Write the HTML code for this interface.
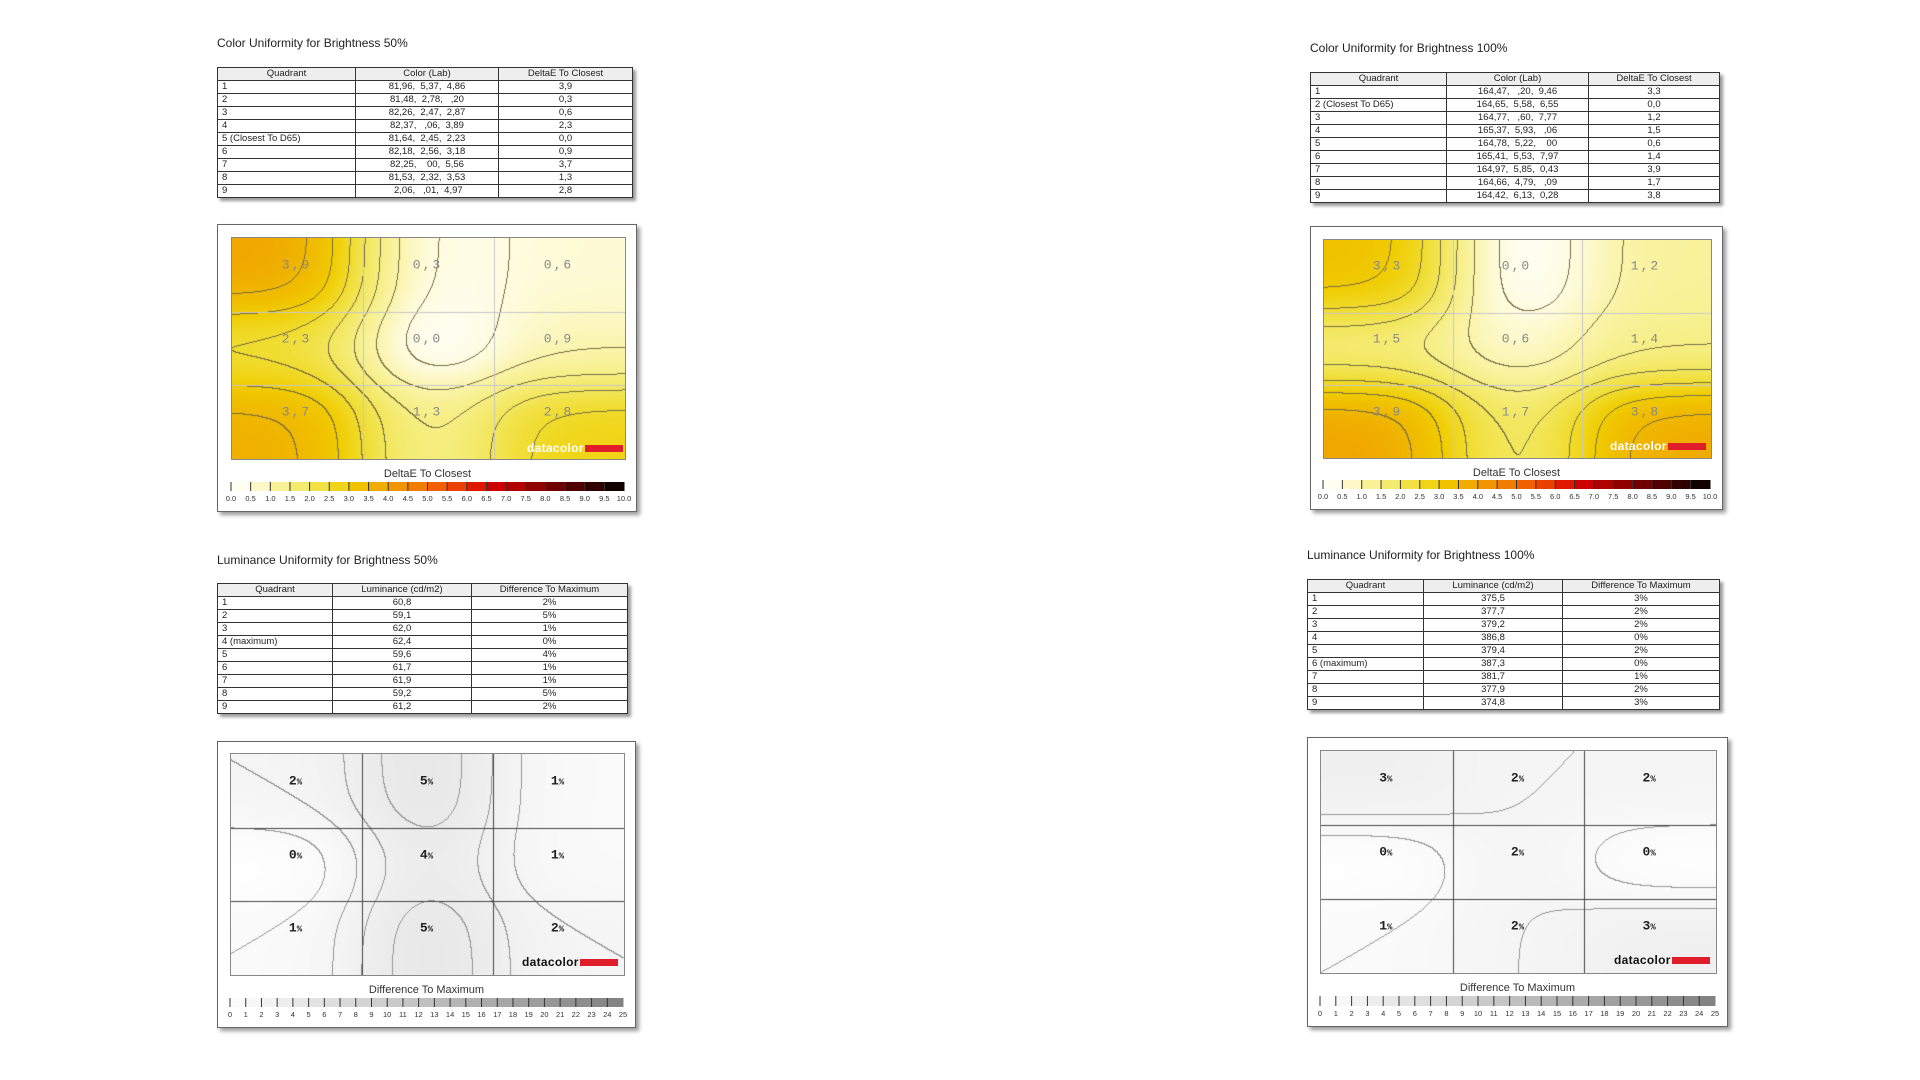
<!DOCTYPE html>
<html><head><meta charset="utf-8">
<style>
body{margin:0;width:1920px;height:1080px;background:#fff;position:relative;overflow:hidden;font-family:"Liberation Sans",Arial,sans-serif;color:#222}
.t{position:absolute;font-size:12px;white-space:nowrap}
table{position:absolute;border-collapse:collapse;font-size:9.5px;box-shadow:3px 3px 3px #999;background:#fff}
td,th{border:1px solid #333;padding:0 3px;height:12px;line-height:12px;font-weight:normal;text-align:center}
th{background:#eee}
td.l{text-align:left;padding-left:4px}
.box{position:absolute;border:1px solid #666;background:#fff;box-shadow:3px 3px 4px #999}
canvas{position:absolute;border:1px solid #888;box-sizing:border-box}
.lab{position:absolute;font-family:"Liberation Mono",monospace;font-size:13px;transform:translate(-50%,-50%);white-space:nowrap}
.dl{color:#888;letter-spacing:2px}
.ll{color:#222;font-weight:bold}
.logo{position:absolute;font-weight:bold;font-size:12px;letter-spacing:0.3px}
.logo span{display:inline-block;width:38px;height:7px;background:#e21d2b;vertical-align:middle;margin-left:1px}
svg{position:absolute;left:0;top:0}
</style></head><body>

<div class="t" style="left:217px;top:36px">Color Uniformity for Brightness 50%</div>
<table style="left:217px;top:67px;width:416px">
<tr><th style="width:131px">Quadrant</th><th style="width:136px">Color (Lab)</th><th>DeltaE To Closest</th></tr>
<tr><td class="l">1</td><td>81,96,&nbsp; 5,37,&nbsp; 4,86</td><td>3,9</td></tr>
<tr><td class="l">2</td><td>81,48,&nbsp; 2,78,&nbsp; &nbsp;,20</td><td>0,3</td></tr>
<tr><td class="l">3</td><td>82,26,&nbsp; 2,47,&nbsp; 2,87</td><td>0,6</td></tr>
<tr><td class="l">4</td><td>82,37,&nbsp; &nbsp;,06,&nbsp; 3,89</td><td>2,3</td></tr>
<tr><td class="l">5 (Closest To D65)</td><td>81,64,&nbsp; 2,45,&nbsp; 2,23</td><td>0,0</td></tr>
<tr><td class="l">6</td><td>82,18,&nbsp; 2,56,&nbsp; 3,18</td><td>0,9</td></tr>
<tr><td class="l">7</td><td>82,25,&nbsp; &nbsp; 00,&nbsp; 5,56</td><td>3,7</td></tr>
<tr><td class="l">8</td><td>81,53,&nbsp; 2,32,&nbsp; 3,53</td><td>1,3</td></tr>
<tr><td class="l">9</td><td>&nbsp;2,06,&nbsp; &nbsp;,01,&nbsp; 4,97</td><td>2,8</td></tr>
</table>

<div class="t" style="left:1310px;top:41px">Color Uniformity for Brightness 100%</div>
<table style="left:1310px;top:72px;width:410px">
<tr><th style="width:129px">Quadrant</th><th style="width:135px">Color (Lab)</th><th>DeltaE To Closest</th></tr>
<tr><td class="l">1</td><td>164,47,&nbsp; &nbsp;,20,&nbsp; 9,46</td><td>3,3</td></tr>
<tr><td class="l">2 (Closest To D65)</td><td>164,65,&nbsp; 5,58,&nbsp; 6,55</td><td>0,0</td></tr>
<tr><td class="l">3</td><td>164,77,&nbsp; &nbsp;,60,&nbsp; 7,77</td><td>1,2</td></tr>
<tr><td class="l">4</td><td>165,37,&nbsp; 5,93,&nbsp; &nbsp;,06</td><td>1,5</td></tr>
<tr><td class="l">5</td><td>164,78,&nbsp; 5,22,&nbsp; &nbsp; 00</td><td>0,6</td></tr>
<tr><td class="l">6</td><td>165,41,&nbsp; 5,53,&nbsp; 7,97</td><td>1,4</td></tr>
<tr><td class="l">7</td><td>164,97,&nbsp; 5,85,&nbsp; 0,43</td><td>3,9</td></tr>
<tr><td class="l">8</td><td>164,66,&nbsp; 4,79,&nbsp; &nbsp;,09</td><td>1,7</td></tr>
<tr><td class="l">9</td><td>164,42,&nbsp; 6,13,&nbsp; 0,28</td><td>3,8</td></tr>
</table>

<div class="t" style="left:217px;top:553px">Luminance Uniformity for Brightness 50%</div>
<table style="left:217px;top:583px;width:411px">
<tr><th style="width:108px">Quadrant</th><th style="width:132px">Luminance (cd/m2)</th><th>Difference To Maximum</th></tr>
<tr><td class="l">1</td><td>60,8</td><td>2%</td></tr>
<tr><td class="l">2</td><td>59,1</td><td>5%</td></tr>
<tr><td class="l">3</td><td>62,0</td><td>1%</td></tr>
<tr><td class="l">4 (maximum)</td><td>62,4</td><td>0%</td></tr>
<tr><td class="l">5</td><td>59,6</td><td>4%</td></tr>
<tr><td class="l">6</td><td>61,7</td><td>1%</td></tr>
<tr><td class="l">7</td><td>61,9</td><td>1%</td></tr>
<tr><td class="l">8</td><td>59,2</td><td>5%</td></tr>
<tr><td class="l">9</td><td>61,2</td><td>2%</td></tr>
</table>

<div class="t" style="left:1307px;top:548px">Luminance Uniformity for Brightness 100%</div>
<table style="left:1307px;top:579px;width:413px">
<tr><th style="width:109px">Quadrant</th><th style="width:132px">Luminance (cd/m2)</th><th>Difference To Maximum</th></tr>
<tr><td class="l">1</td><td>375,5</td><td>3%</td></tr>
<tr><td class="l">2</td><td>377,7</td><td>2%</td></tr>
<tr><td class="l">3</td><td>379,2</td><td>2%</td></tr>
<tr><td class="l">4</td><td>386,8</td><td>0%</td></tr>
<tr><td class="l">5</td><td>379,4</td><td>2%</td></tr>
<tr><td class="l">6 (maximum)</td><td>387,3</td><td>0%</td></tr>
<tr><td class="l">7</td><td>381,7</td><td>1%</td></tr>
<tr><td class="l">8</td><td>377,9</td><td>2%</td></tr>
<tr><td class="l">9</td><td>374,8</td><td>3%</td></tr>
</table>

<div class="box" style="left:217px;top:224px;width:418px;height:286px"></div>
<div class="box" style="left:1310px;top:226px;width:411px;height:282px"></div>
<div class="box" style="left:217px;top:741px;width:417px;height:285px"></div>
<div class="box" style="left:1307px;top:737px;width:419px;height:288px"></div>

<canvas id="c1" width="393" height="221" style="left:231px;top:237px"></canvas>
<canvas id="c2" width="387" height="218" style="left:1323px;top:239px"></canvas>
<canvas id="c3" width="393" height="221" style="left:230px;top:753px"></canvas>
<canvas id="c4" width="395" height="222" style="left:1320px;top:750px"></canvas>

<div id="labels"></div>
<svg id="bars" width="1920" height="1080"></svg>

<script>
function lerpStops(stops,v){
  if(v<=stops[0][0])return stops[0][1];
  for(var i=1;i<stops.length;i++){if(v<=stops[i][0]){var a=stops[i-1],b=stops[i],t=(v-a[0])/(b[0]-a[0]);
    return [0,1,2].map(function(k){return a[1][k]+(b[1][k]-a[1][k])*t;});}}
  return stops[stops.length-1][1];
}
var deStops=[[0,[255,255,255]],[0.5,[255,252,225]],[1,[250,244,170]],[1.5,[246,238,130]],[2,[242,230,90]],[2.5,[240,220,45]],[3,[240,204,0]],[3.5,[240,184,0]],[4,[240,160,0]],[4.5,[240,136,0]],[5,[240,112,0]],[5.5,[240,80,0]],[6,[232,48,0]],[6.5,[216,0,0]],[7,[192,0,0]],[7.5,[160,0,0]],[8,[128,0,0]],[8.5,[96,0,0]],[9,[64,0,0]],[9.5,[32,0,0]],[10,[0,0,0]]];
var lumStops=[[0,[255,255,255]],[25,[128,128,128]]];
function draw(id,vals,stops,step,gridC,lineC){
  var c=document.getElementById(id),ctx=c.getContext('2d'),w=c.width,h=c.height;
  var img=ctx.createImageData(w,h),d=img.data,K=new Array(w*h),V=new Array(w*h);
  var sg=0.45,s2=2*sg*sg;
  for(var y=0;y<h;y++){var ty=(y+0.5)/h*3-0.5;
    for(var x=0;x<w;x++){var tx=(x+0.5)/w*3-0.5,sw=0,sv=0;
      for(var j=0;j<3;j++)for(var i=0;i<3;i++){var dx=tx-i,dy=ty-j,wt=Math.exp(-(dx*dx+dy*dy)/s2);sw+=wt;sv+=wt*vals[j][i];}
      var v=sv/sw;
      V[y*w+x]=v;K[y*w+x]=Math.floor(v/step);}}
  for(var y=0;y<h;y++)for(var x=0;x<w;x++){var p=y*w+x,col=lerpStops(stops,V[p]);
    var k=K[p],ct=(x<w-1&&K[p+1]!=k)||(y<h-1&&K[p+w]!=k);
    if(ct)col=lineC;
    d[p*4]=col[0];d[p*4+1]=col[1];d[p*4+2]=col[2];d[p*4+3]=255;}
  ctx.putImageData(img,0,0);
  ctx.strokeStyle=gridC;ctx.lineWidth=1;ctx.beginPath();
  for(var i=1;i<3;i++){var gx=Math.round(w*i/3)+0.5,gy=Math.round(h*i/3)+0.5;ctx.moveTo(gx,0);ctx.lineTo(gx,h);ctx.moveTo(0,gy);ctx.lineTo(w,gy);}
  ctx.stroke();
}
draw('c1',[[3.9,0.3,0.6],[2.3,0.0,0.9],[3.7,1.3,2.8]],deStops,0.5,'#c8c8c8',[120,110,70]);
draw('c2',[[3.3,0.0,1.2],[1.5,0.6,1.4],[3.9,1.7,3.8]],deStops,0.5,'#c8c8c8',[120,110,70]);
draw('c3',[[2,5,1],[0,4,1],[1,5,2]],lumStops,1,'#444',[150,150,150]);
draw('c4',[[3,2,2],[0,2,0],[1,2,3]],lumStops,1,'#444',[150,150,150]);

var labs=document.getElementById('labels'),html='';
function addLabels(x0,y0,w,h,arr,cls,pct){
  for(var j=0;j<3;j++)for(var i=0;i<3;i++){
    var cx=x0+w*(i+0.5)/3,cy=y0+h*(j+0.5)/3-9;
    var t=pct?(arr[j][i]+'<span style="font-size:9px">%</span>'):arr[j][i];
    html+='<div class="lab '+cls+'" style="left:'+cx+'px;top:'+cy+'px">'+t+'</div>';}
}
addLabels(231,237,393,221,[['3,9','0,3','0,6'],['2,3','0,0','0,9'],['3,7','1,3','2,8']],'dl',false);
addLabels(1323,239,387,218,[['3,3','0,0','1,2'],['1,5','0,6','1,4'],['3,9','1,7','3,8']],'dl',false);
addLabels(230,753,393,221,[[2,5,1],[0,4,1],[1,5,2]],'ll',true);
addLabels(1320,750,395,222,[[3,2,2],[0,2,0],[1,2,3]],'ll',true);
html+='<div class="logo" style="left:527px;top:441px;color:#fff">datacolor<span></span></div>';
html+='<div class="logo" style="left:1610px;top:439px;color:#fff">datacolor<span></span></div>';
html+='<div class="logo" style="left:522px;top:955px;color:#111">datacolor<span></span></div>';
html+='<div class="logo" style="left:1614px;top:953px;color:#111">datacolor<span></span></div>';
labs.innerHTML=html;

var s='';
function bar(x0,x1,y0,y1,ly,ty,title,n,stops,maxv,fmt){
  var w=(x1-x0)/n;
  s+='<text x="'+((x0+x1)/2)+'" y="'+ty+'" font-size="11" text-anchor="middle" fill="#333" font-family="Liberation Sans">'+title+'</text>';
  for(var i=0;i<n;i++){var c=lerpStops(stops,(i+0.5)/n*maxv);
    s+='<rect x="'+(x0+i*w)+'" y="'+y0+'" width="'+(w+0.5)+'" height="'+(y1-y0)+'" fill="rgb('+c.map(Math.round).join(',')+')"/>';}
  for(var i=0;i<=n;i++){var x=x0+i*w;
    if(i<n)s+='<line x1="'+x+'" x2="'+x+'" y1="'+y0+'" y2="'+y1+'" stroke="#333" stroke-width="1"/>';
    s+='<text x="'+x+'" y="'+ly+'" font-size="7.5" text-anchor="middle" fill="#333" font-family="Liberation Sans">'+fmt(i)+'</text>';}
}
bar(231,624,482,491,501,477,'DeltaE To Closest',20,deStops,10,function(i){return (i/2).toFixed(1);});
bar(1323,1710,480,489,499,476,'DeltaE To Closest',20,deStops,10,function(i){return (i/2).toFixed(1);});
bar(230,623,998,1007,1017,993,'Difference To Maximum',25,lumStops,25,function(i){return i;});
bar(1320,1715,996,1006,1016,991,'Difference To Maximum',25,lumStops,25,function(i){return i;});
document.getElementById('bars').innerHTML=s;
</script>
</body></html>
